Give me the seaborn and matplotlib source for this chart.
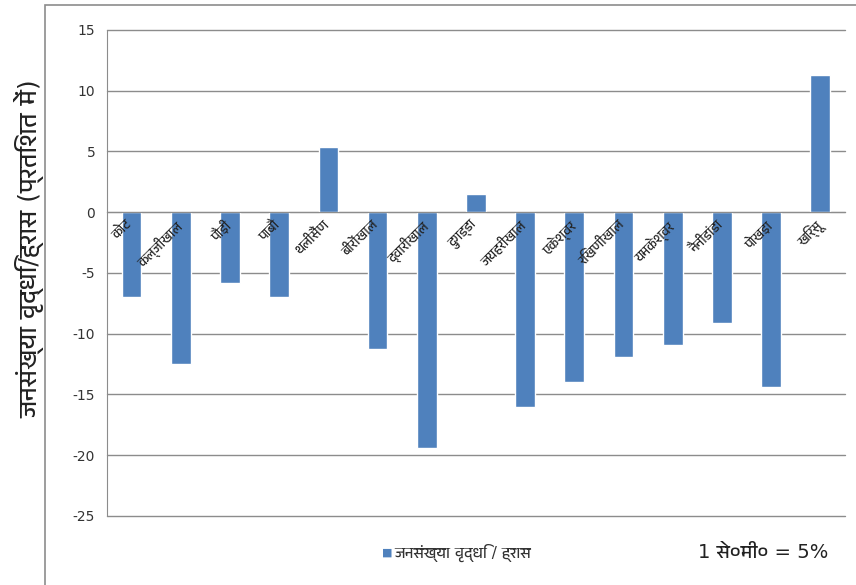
import matplotlib
matplotlib.use("Agg")
import matplotlib.pyplot as plt
import seaborn as sns
import pandas as pd
from matplotlib.patches import Rectangle
from matplotlib import font_manager

blocks = ["कोट", "कल्जीखाल", "पौड़ी", "पाबौ", "थलीसैंण", "बीरोंखाल", "द्वारीखाल",
          "दुगड्डा", "जयहरीखाल", "एकेश्वर", "रिखणीखाल", "यमकेश्वर", "नैनीडांडा",
          "पोखड़ा", "खिर्सू"]
change_pct = [-7.0, -12.5, -5.8, -7.0, 5.4, -11.3, -19.4, 1.5, -16.0, -14.0,
              -11.9, -10.9, -9.1, -14.4, 11.3]
y_ticks = [15, 10, 5, 0, -5, -10, -15, -20, -25]
series_name = "जनसंख्या वृद्धि / ह्रास"
y_label = "जनसंख्या वृद्धि/ह्रास (प्रतिशत में)"
scale_note = "1 से०मी० = 5%"

deva = sorted(set(f.name for f in font_manager.fontManager.ttflist
                  if "Devanagari" in f.name or "Lohit" in f.name or "Mangal" in f.name))

sns.set_style("white")
plt.rcParams['font.family'] = ["DejaVu Sans"] + deva[:1]

df = pd.DataFrame({"block": blocks, "value": change_pct})

fig = plt.figure(figsize=(8.56, 5.85), dpi=100)
ax = fig.add_axes([0.125, 0.118, 0.862, 0.831])

sns.barplot(data=df, x="block", y="value", order=blocks, color="#4F81BD",
            width=0.4, saturation=1, ax=ax, label=series_name, legend=False)

n = len(blocks)
ax.set_xlim(-0.5, n - 0.5)
ax.set_ylim(-25, 15)
ax.set_yticks(y_ticks)
ax.set_yticklabels([str(t) for t in y_ticks], fontsize=10, color="#333333")
for t in y_ticks:
    ax.axhline(t, color="#8c8c8c", lw=1.0, zorder=0, clip_on=False)

for s in ["top", "right"]:
    ax.spines[s].set_visible(False)
ax.spines["left"].set_color("#8c8c8c")
ax.spines["bottom"].set_position(("data", 0))
ax.spines["bottom"].set_color("#8c8c8c")
ax.set_xticks([i - 0.5 for i in range(n + 1)])
ax.set_xticklabels([])
ax.tick_params(axis="x", length=5, color="#8c8c8c", direction="out")
ax.tick_params(axis="y", length=5, color="#8c8c8c", direction="out")
ax.set_xlabel("")
ax.set_ylabel(y_label, fontsize=18, color="#222222")
ax.yaxis.set_label_coords(-0.085, 0.55)

for i, name in enumerate(blocks):
    ax.text(i - 0.12, -0.5, name, rotation=45, ha="right", va="top",
            rotation_mode="anchor", fontsize=9.5, color="#222222")

# legend-like entry below plot
fig.text(0.459, 0.055, "■", fontsize=8, color="#4F81BD", va="center", ha="right")
fig.text(0.461, 0.055, series_name, fontsize=11, color="#333333", va="center", ha="left")
fig.text(0.815, 0.055, scale_note, fontsize=14, color="#222222", va="center", ha="left")

# chart area border
fig.add_artist(Rectangle((0.052, -0.01), 1.0, 1.002, transform=fig.transFigure,
                         fill=False, edgecolor="#8c8c8c", lw=1.2))

fig.savefig("out.png", dpi=100)
